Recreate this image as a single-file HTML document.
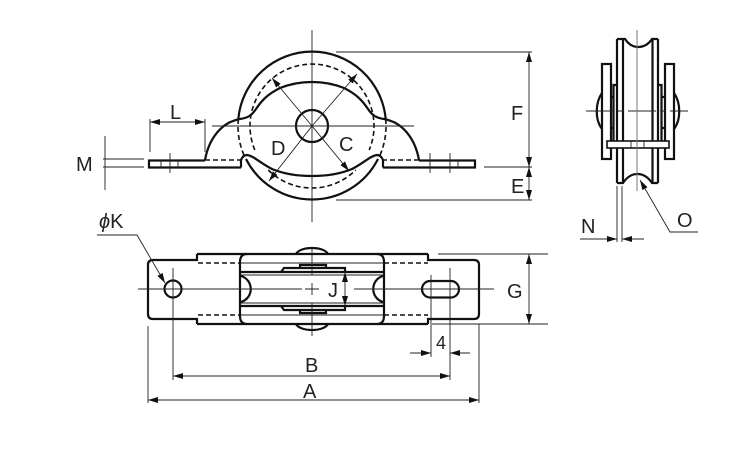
<!DOCTYPE html>
<html><head><meta charset="utf-8">
<style>html,body{margin:0;padding:0;background:#fff;width:750px;height:450px;overflow:hidden}
svg{display:block}
text{font-family:"Liberation Sans",sans-serif;font-size:20px;fill:#222}
.k{fill:none;stroke:#111;stroke-width:2.2}
.t{fill:none;stroke:#222;stroke-width:.9}
.d{fill:none;stroke:#111;stroke-width:1.6;stroke-dasharray:5 3}
</style></head><body>
<svg width="750" height="450" viewBox="0 0 750 450">
<defs>
<marker id="a" viewBox="0 0 10 6" refX="10" refY="3" markerWidth="10" markerHeight="6" markerUnits="userSpaceOnUse" orient="auto-start-reverse"><path d="M0 0L10 3L0 6z" fill="#111"/></marker>
</defs>
<!-- front view -->
<g>
<path class="k" d="M238.300 119A74 74 0 0 1 385.700 119"/>
<path class="k" d="M246 159A74 74 0 0 0 378 159"/>
<path class="d" d="M238.300 119A74 74 0 0 0 244.800 157"/>
<path class="d" d="M385.700 119A74 74 0 0 1 379.200 157"/>
<path class="d" d="M254.800 150A62 62 0 1 1 369.200 150"/>
<path class="d" d="M268.300 170A62 62 0 0 0 355.700 170"/>
<path class="k" d="M205 160C209 138 222 122 240 119C248 118 252 115 256 109C262 100 268 94 280 88C290 84 300 82 312 82C324 82 334 84 344 88C356 94 362 100 368 109C372 115 376 118 384 119C402 122 415 138 419 160"/>
<path class="k" d="M241 167.500V160Q243 155 247 155C254 156 260 163 272 169C284 174 298 176 312 176C326 176 340 174 352 169C364 163 370 156 377 155Q381 155 383 160V167.500"/>
<path class="k" d="M241 167.500H149V160.500H205"/>
<path class="k" d="M383 167.500H475V160.500H419"/>
<path class="d" d="M205 160H241M419 160H383" stroke-width="1.200"/>
<circle class="k" cx="312" cy="126" r="16"/>
<path class="t" d="M312 30V222M212 126H414"/>
<path class="t" d="M170 153V173M161 160V167M178 160V167M430 153V173M450 153V173M458 160V167"/>
<path class="t" d="M312 126L269 181" marker-end="url(#a)"/>
<path class="t" d="M312 126L272 78" marker-end="url(#a)"/>
<path class="t" d="M312 126L357 74" marker-end="url(#a)"/>
<path class="t" d="M312 126L349 171" marker-end="url(#a)"/>
<path class="t" d="M150 152V119M205 152V119"/>
<path class="t" d="M150 122H205" marker-start="url(#a)" marker-end="url(#a)"/>
<path class="t" d="M103 159H144M103 167H144M105 136V190"/>
<path class="t" d="M336 52H532M336 200H532M484 167H532"/>
<path class="t" d="M529 52V167" marker-start="url(#a)" marker-end="url(#a)"/>
<path class="t" d="M529 167V200" marker-start="url(#a)" marker-end="url(#a)"/>
</g>
<text x="170" y="119">L</text>
<text x="76" y="171">M</text>
<text x="271" y="155">D</text>
<text x="339" y="151">C</text>
<text x="511" y="120">F</text>
<text x="511" y="193">E</text>
<!-- side view -->
<g>
<path class="k" d="M617 39V183M658 39V183M623 39V183M652.500 39V183"/>
<path class="k" d="M617 39H625C629 45 633 47 638 47C643 47 648 45 652 39H658"/>
<path class="k" d="M617 183H623C627 177 632 174 637.500 174C643 174 648 177 652 183H658"/>
<rect class="k" x="602" y="64" width="9" height="95"/>
<rect class="k" x="665" y="64" width="9" height="95"/>
<path class="k" stroke-width="1.500" d="M617 85H613.500V141M658 85H661.500V141M611 97H613.500M611 128H613.500M664 97H661.500M664 128H661.500"/>
<path class="k" d="M602 93C595 103 595 120 602 129M674 93C681 103 681 120 674 129"/>
<rect x="607" y="141" width="62" height="7" fill="#fff" stroke="#111" stroke-width="1.600"/>
<path class="t" d="M631 141V148M644 141V148"/>
<path d="M586 111H688" fill="none" stroke="#222" stroke-width="1" stroke-dasharray="28 4 6 4"/>
<path d="M637 30V191" fill="none" stroke="#777" stroke-width="1"/>
<path class="t" d="M617 186V242M622 186V242"/>
<path class="t" d="M580 239H617" marker-end="url(#a)"/>
<path class="t" d="M644 239H622" marker-end="url(#a)"/>
<path class="t" d="M698 232H670L640 180" marker-end="url(#a)"/>
</g>
<text x="581" y="233">N</text>
<text x="677" y="227">O</text>
<!-- top view -->
<g>
<path class="k" d="M197 254H428M197 324H428"/>
<path class="k" d="M197 254V260H153Q148 260 148 265V314Q148 319 153 319H197V324"/>
<path class="k" d="M428 254V260H474Q479 260 479 265V314Q479 319 474 319H428V324"/>
<path class="k" d="M247 254Q240 254 240 262V316Q240 324 247 324M377 254Q384 254 384 262V316Q384 324 377 324"/>
<path class="d" d="M198 263H240M198 315H240M384 263H428M384 315H428"/>
<path class="t" d="M241 263H383M241 315H383"/>
<path d="M241 272H384M241 306H384" stroke="#111" stroke-width="2.200" fill="none"/>
<path class="t" d="M241 275H384M241 303H384"/>
<path class="k" stroke-width="1.400" d="M281 272L284 268H345V272M281 306L284 310H345V306M300 268V265H326V268M300 310V313H326V310"/>
<path class="k" d="M241 276C254 280 254 298 241 302M383 276C370 280 370 298 383 302" stroke-width="1.800"/>
<path class="k" d="M296 254C300 246 324 246 328 254M296 324C300 332 324 332 328 324"/>
<circle class="k" cx="173" cy="289" r="8.500"/>
<rect class="k" x="422" y="281" width="37" height="16.500" rx="8.200"/>
<path class="t" d="M138 289H302M354 289H494M305 289H319M312 247V275M312 283V295M312 303V336"/>
<path class="t" d="M173 268V380M431 275V357M450 268V380"/>
<path class="t" d="M148 326V403M479 324V403"/>
<path class="t" d="M173 376H450" marker-start="url(#a)" marker-end="url(#a)"/>
<path class="t" d="M148 400H479" marker-start="url(#a)" marker-end="url(#a)" stroke-width="1.100"/>
<path class="t" d="M410 353H431" marker-end="url(#a)"/>
<path class="t" d="M470 353H450" marker-end="url(#a)"/>
<path class="t" d="M345 272V306" marker-start="url(#a)" marker-end="url(#a)"/>
<path class="t" d="M438 254H548M432 324H548"/>
<path class="t" d="M529 254V324" marker-start="url(#a)" marker-end="url(#a)"/>
<path class="t" d="M97 235H137L165 283" marker-end="url(#a)"/>
</g>
<text x="99" y="228"><tspan font-style="italic">ϕ</tspan>K</text>
<text x="328" y="297">J</text>
<text x="507" y="298">G</text>
<text x="436" y="349" style="font-size:18px">4</text>
<text x="305" y="372">B</text>
<text x="303" y="398">A</text>
</svg>
</body></html>
